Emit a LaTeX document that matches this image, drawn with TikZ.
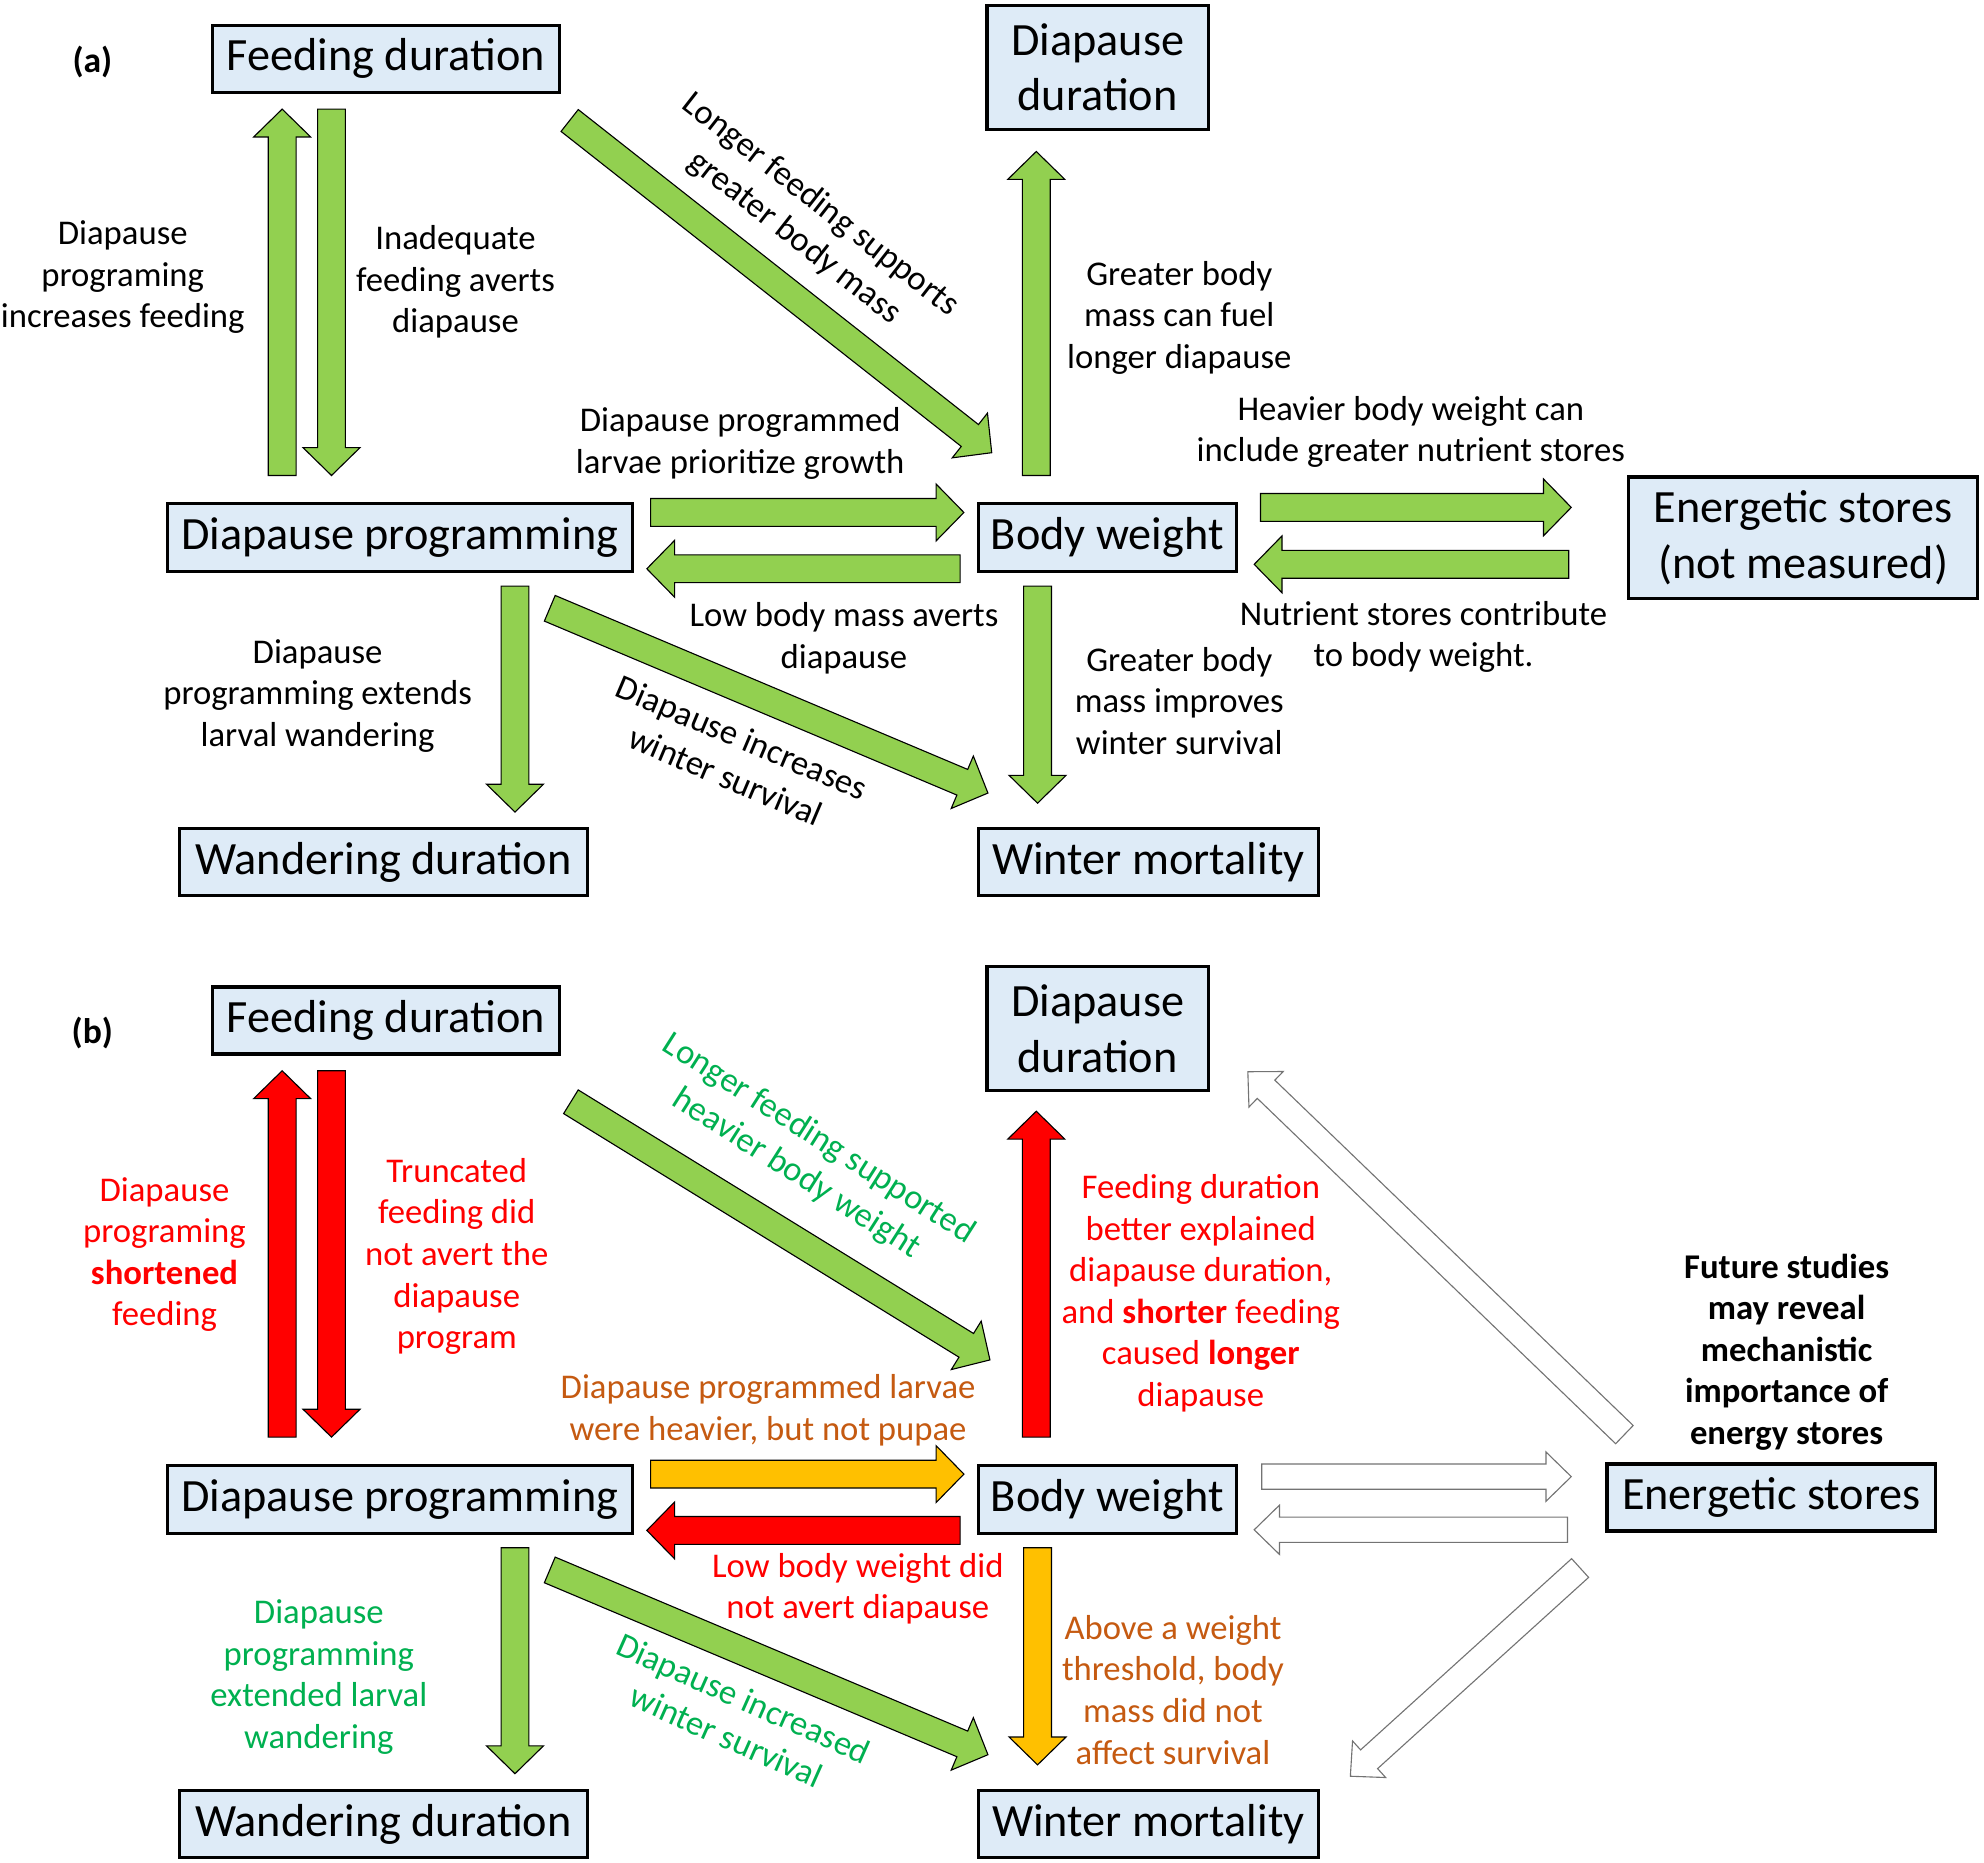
\documentclass[tikz,border=0pt]{standalone}
\usepackage{fontspec}
\setmainfont{Carlito}
\usetikzlibrary{calc}
\definecolor{boxblue}{RGB}{222,235,247}
\definecolor{arrgreen}{RGB}{146,208,80}
\definecolor{arrorange}{RGB}{255,192,0}
\definecolor{arrred}{RGB}{255,0,0}
\definecolor{txtgreen}{RGB}{0,176,80}
\definecolor{txtorange}{RGB}{197,90,17}
\definecolor{txtred}{RGB}{255,0,0}

\tikzset{
  shaft hw/.store in=\shafthw, head hw/.store in=\headhw, head len/.store in=\headlen,
  shaft hw=0.22cm, head hw=0.45cm, head len=0.44cm,
  box/.style={draw, line width=1.4pt, fill=boxblue, align=center, inner sep=0pt,
    font=\fontsize{20.8}{25}\selectfont},
  lbl/.style={align=center, inner sep=0pt, font=\fontsize{15.6}{18.7}\selectfont},
  tag/.style={inner sep=0pt, font=\fontsize{16}{18}\selectfont\bfseries},
  green arrow/.style={fill=arrgreen, draw=black, line width=0.5pt},
  red arrow/.style={fill=arrred, draw=black, line width=0.5pt},
  orange arrow/.style={fill=arrorange, draw=black, line width=0.5pt},
  hollow arrow/.style={fill=white, draw=black!55, line width=0.5pt,
    shaft hw=0.2cm, head hw=0.39cm, head len=0.4cm}
}

\newcommand{\blockarrow}[3][]{%
  \coordinate (ba-s) at #2;
  \coordinate (ba-e) at #3;
  \path[line join=miter, #1] let \p1=($(ba-e)-(ba-s)$), \n1={atan2(\y1,\x1)}, \n2={veclen(\x1,\y1)} in
    [shift={(ba-s)}, rotate=\n1]
    (0pt,-\shafthw) -- (\n2-\headlen,-\shafthw) -- (\n2-\headlen,-\headhw) -- (\n2,0pt)
    -- (\n2-\headlen,\headhw) -- (\n2-\headlen,\shafthw) -- (0pt,\shafthw) -- cycle;}

\begin{document}
\begin{tikzpicture}[x=0.02cm, y=-0.02cm]
\useasboundingbox (0,0) rectangle (1568,1472);

\node[tag] (taga) at (73,49) {(a)};
\node[tag] (tagb) at (73,816) {(b)};

\foreach \p/\dy in {a/0,b/760}{
  \node[box, minimum width=5.48cm, minimum height=1.06cm] (fd\p) at (305,46.5+\dy) {Feeding duration};
  \node[box, minimum width=3.5cm, minimum height=1.96cm] (dd\p) at (867.5,53+\dy) {Diapause\\duration};
  \node[box, minimum width=7.36cm, minimum height=1.08cm] (dp\p) at (316,425+\dy) {Diapause programming};
  \node[box, minimum width=4.08cm, minimum height=1.08cm] (bw\p) at (875,425+\dy) {Body weight};
  \node[box, minimum width=6.44cm, minimum height=1.06cm] (wd\p) at (303,681.5+\dy) {Wandering duration};
  \node[box, minimum width=5.38cm, minimum height=1.06cm] (wm\p) at (907.5,681.5+\dy) {Winter mortality};
}
\node[box, minimum width=5.52cm, minimum height=1.92cm] (esa) at (1425,425) {Energetic stores\\(not measured)};
\node[box, minimum width=5.2cm, minimum height=1.06cm] (esb) at (1400,1183.5) {Energetic stores};

\foreach \p in {a,b}{
  \blockarrow[green arrow]{($(dp\p.south)+(91,10)$)}{($(wd\p.north)+(104,-12)$)}
  \blockarrow[green arrow]{($(dp\p.south)+(118.5,27.5)$)}{($(wm\p.north west)+(9,-27)$)}
}

\blockarrow[green arrow]{($(dpa.north)+(-93,-21)$)}{($(fda.south)+(-82,12)$)}
\blockarrow[green arrow]{($(fda.south)+(-43,12)$)}{($(dpa.north)+(-54,-21)$)}
\blockarrow[green arrow]{($(fda.south east)+(7,21)$)}{($(bwa.north west)+(12,-39)$)}
\blockarrow[green arrow]{($(bwa.north)+(-56,-21)$)}{($(dda.south)+(-48.5,16.5)$)}
\blockarrow[green arrow]{($(dpa.east)+(13,-20)$)}{($(bwa.west)+(-10,-20)$)}
\blockarrow[green arrow]{($(bwa.west)+(-13,24.5)$)}{($(dpa.east)+(10,24.5)$)}
\blockarrow[green arrow]{($(bwa.east)+(18,-24)$)}{($(esa.west)+(-44,-24)$)}
\blockarrow[green arrow]{($(esa.west)+(-46,21)$)}{($(bwa.east)+(13,21)$)}
\blockarrow[green arrow]{($(bwa.south)+(-55,10)$)}{($(wma.north)+(-87.5,-19)$)}

\blockarrow[red arrow]{($(dpb.north)+(-93,-21)$)}{($(fdb.south)+(-82,12)$)}
\blockarrow[red arrow]{($(fdb.south)+(-43,12)$)}{($(dpb.north)+(-54,-21)$)}
\blockarrow[green arrow]{($(fdb.south east)+(8,36.5)$)}{($(bwb.north west)+(10.6,-82)$)}
\blockarrow[red arrow]{($(bwb.north)+(-56,-21)$)}{($(ddb.south)+(-48.5,15)$)}
\blockarrow[orange arrow]{($(dpb.east)+(13,-20)$)}{($(bwb.west)+(-10,-20)$)}
\blockarrow[red arrow]{($(bwb.west)+(-13,24.5)$)}{($(dpb.east)+(10,24.5)$)}
\blockarrow[orange arrow]{($(bwb.south)+(-55,10)$)}{($(wmb.north)+(-87.5,-19)$)}
\blockarrow[hollow arrow]{($(bwb.east)+(19,-18)$)}{($(esb.west)+(-27,-16.5)$)}
\blockarrow[hollow arrow]{($(esb.west)+(-30,25.5)$)}{($(bwb.east)+(13,24)$)}
\blockarrow[hollow arrow]{($(esb.north west)+(15,-22)$)}{($(ddb.east)+(30,34)$)}
\blockarrow[hollow arrow]{($(esb.south west)+(-20,28)$)}{($(wmb.north east)+(24,-10)$)}

\node[lbl] (la1) at (97,219) {Diapause\\programing\\increases feeding};
\node[lbl] (la2) at (360,223) {Inadequate\\feeding averts\\diapause};
\node[lbl, rotate=-38] (la3) at (638,175) {Longer feeding supports\\greater body mass};
\node[lbl] (la4) at (932,251) {Greater body\\mass can fuel\\longer diapause};
\node[lbl] (la5) at (585,350.5) {Diapause programmed\\larvae prioritize growth};
\node[lbl] (la6) at (1115,341.5) {Heavier body weight can\\include greater nutrient stores};
\node[lbl] (la7) at (667,504.5) {Low body mass averts\\diapause};
\node[lbl] (la8) at (1125,503.5) {Nutrient stores contribute\\to body weight.};
\node[lbl] (la9) at (932,554) {Greater body\\mass improves\\winter survival};
\node[lbl] (la10) at (251,550) {Diapause\\programming extends\\larval wandering};
\node[lbl, rotate=-23] (la11) at (580,598) {Diapause increases\\winter survival};

\node[lbl, text=txtred] (lb1) at (130,991.5) {Diapause\\programing\\\textbf{shortened}\\feeding};
\node[lbl, text=txtred] (lb2) at (361,993) {Truncated\\feeding did\\not avert the\\diapause\\program};
\node[lbl, text=txtgreen, rotate=-32.5] (lb3) at (638,914) {Longer feeding supported\\heavier body weight};
\node[lbl, text=txtred] (lb4) at (949,1022) {Feeding duration\\better explained\\diapause duration,\\and \textbf{shorter} feeding\\caused \textbf{longer}\\diapause};
\node[lbl, text=txtorange] (lb5) at (607,1114.5) {Diapause programmed larvae\\were heavier, but not pupae};
\node[lbl, text=txtred] (lb6) at (678,1255.5) {Low body weight did\\not avert diapause};
\node[lbl, text=txtorange] (lb7) at (927,1335.5) {Above a weight\\threshold, body\\mass did not\\affect survival};
\node[lbl, text=txtgreen] (lb8) at (252,1325.5) {Diapause\\programming\\extended larval\\wandering};
\node[lbl, text=txtgreen, rotate=-24] (lb9) at (581,1357) {Diapause increased\\winter survival};
\node[lbl, font=\fontsize{15.6}{18.7}\selectfont\bfseries] (lb10) at (1412,1068.5) {Future studies\\may reveal\\mechanistic\\importance of\\energy stores};
\end{tikzpicture}
\end{document}
